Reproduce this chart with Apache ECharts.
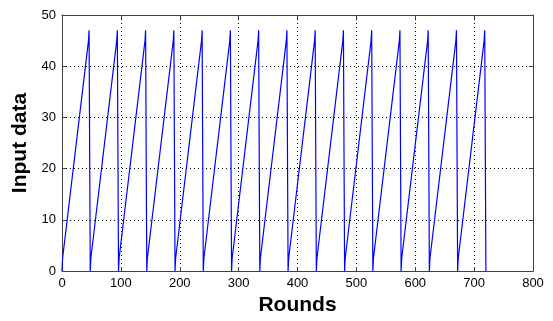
<!DOCTYPE html>
<html>
<head>
<meta charset="utf-8">
<script src="https://cdn.jsdelivr.net/npm/echarts@6/dist/echarts.min.js"></script>
<style>
html,body{margin:0;padding:0;background:#fff;}
#c{width:553px;height:321px;}
</style>
</head>
<body>
<div id="c"></div>
<script>
var rounds = [0,1,45,46,47, 48,49,93,94,95, 96,97,141,142,143, 144,145,189,190,191,
  192,193,237,238,239, 240,241,285,286,287, 288,289,333,334,335, 336,337,381,382,383,
  384,385,429,430,431, 432,433,477,478,479, 480,481,525,526,527, 528,529,573,574,575,
  576,577,621,622,623, 624,625,669,670,671, 672,673,717,718,719, 720];
var inputData = [0,2.5,45,47,23, 0,2.5,45,47,23, 0,2.5,45,47,23, 0,2.5,45,47,23,
  0,2.5,45,47,23, 0,2.5,45,47,23, 0,2.5,45,47,23, 0,2.5,45,47,23,
  0,2.5,45,47,23, 0,2.5,45,47,23, 0,2.5,45,47,23, 0,2.5,45,47,23,
  0,2.5,45,47,23, 0,2.5,45,47,23, 0,2.5,45,47,23, 0];
var xTicks = [0,100,200,300,400,500,600,700,800];
var yTicks = [0,10,20,30,40,50];

var pts = rounds.map(function(r,i){return [r, inputData[i]];});
var chart = echarts.init(document.getElementById('c'), null, {renderer:'canvas'});
var font = 'Liberation Sans, Arial, sans-serif';
var frame = '#404040';
var xMin = xTicks[0], xMax = xTicks[xTicks.length-1], xInt = xTicks[1]-xTicks[0];
var yMin = yTicks[0], yMax = yTicks[yTicks.length-1], yInt = yTicks[1]-yTicks[0];
chart.setOption({
  animation:false,
  backgroundColor:'#fff',
  grid:{left:62, right:20, top:15, bottom:44, containLabel:false},
  xAxis:[{
    type:'value', min:xMin, max:xMax, interval:xInt, position:'bottom',
    name:'Rounds', nameLocation:'middle', nameGap:24,
    nameTextStyle:{fontFamily:font, fontSize:21, fontWeight:'bold', color:'#000'},
    axisLine:{show:true, onZero:false, lineStyle:{color:frame, width:1}},
    axisTick:{show:true, inside:true, length:4, lineStyle:{color:frame}},
    axisLabel:{fontFamily:font, fontSize:13, color:'#000', margin:6},
    splitLine:{show:true, lineStyle:{color:'#000', type:[1,3], width:1}}
  },{
    type:'value', min:xMin, max:xMax, interval:xInt, position:'top',
    axisLine:{show:true, onZero:false, lineStyle:{color:frame, width:1}},
    axisTick:{show:true, inside:true, length:4, lineStyle:{color:frame}},
    axisLabel:{show:false}, splitLine:{show:false}
  }],
  yAxis:[{
    type:'value', min:yMin, max:yMax, interval:yInt, position:'left',
    name:'Input data', nameLocation:'middle', nameGap:31, nameRotate:90,
    nameTextStyle:{fontFamily:font, fontSize:21, fontWeight:'bold', color:'#000'},
    axisLine:{show:true, onZero:false, lineStyle:{color:frame, width:1}},
    axisTick:{show:true, inside:true, length:4, lineStyle:{color:frame}},
    axisLabel:{fontFamily:font, fontSize:13, color:'#000', margin:6},
    splitLine:{show:true, lineStyle:{color:'#000', type:[1,3], width:1}}
  },{
    type:'value', min:yMin, max:yMax, interval:yInt, position:'right',
    axisLine:{show:true, onZero:false, lineStyle:{color:frame, width:1}},
    axisTick:{show:true, inside:true, length:4, lineStyle:{color:frame}},
    axisLabel:{show:false}, splitLine:{show:false}
  }],
  series:[{
    type:'line', data:pts, xAxisIndex:0, yAxisIndex:0,
    showSymbol:false, symbol:'none',
    lineStyle:{color:'#0000ff', width:1.2}
  }]
});
</script>
</body>
</html>
